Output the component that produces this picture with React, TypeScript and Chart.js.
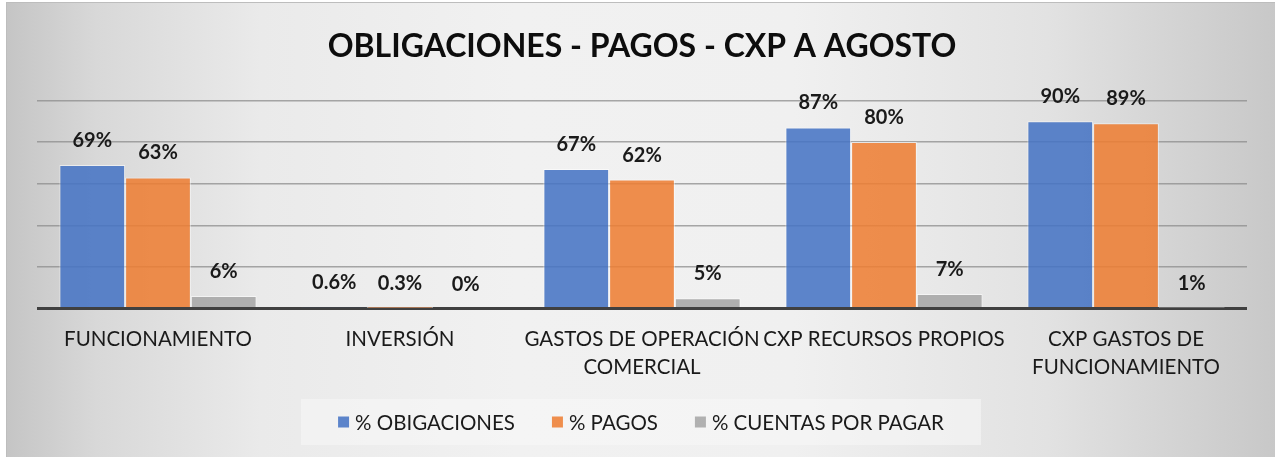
import React, { useEffect, useRef } from "react";
import { Chart, registerables } from "chart.js";

Chart.register(...registerables);

const categories: (string | string[])[] = [
  "FUNCIONAMIENTO",
  "INVERSIÓN",
  ["GASTOS DE OPERACIÓN", "COMERCIAL"],
  "CXP RECURSOS PROPIOS",
  ["CXP GASTOS DE", "FUNCIONAMIENTO"],
];

const seriesNames = ["% OBIGACIONES", "% PAGOS", "% CUENTAS POR PAGAR"];

const obligaciones = [69, 0.6, 67, 87, 90];
const pagos = [63, 0.3, 62, 80, 89];
const cuentasPorPagar = [6, 0, 5, 7, 0.4];

const obligacionesLabels = ["69%", "0.6%", "67%", "87%", "90%"];
const pagosLabels = ["63%", "0.3%", "62%", "80%", "89%"];
const cuentasLabels = ["6%", "0%", "5%", "7%", "1%"];

const yTicks = [0, 20, 40, 60, 80, 100];

const FONT = "Lato, 'Open Sans', sans-serif";

const colors = ["rgba(68,114,196,0.86)", "rgba(237,125,49,0.86)", "rgba(165,165,165,0.86)"];

export default function App() {
  const ref = useRef<HTMLCanvasElement | null>(null);

  useEffect(() => {
    if (!ref.current) return;
    const allLabels = [obligacionesLabels, pagosLabels, cuentasLabels];

    const dataLabelPlugin = {
      id: "dataLabels",
      afterDatasetsDraw(chart: any) {
        const ctx = chart.ctx;
        ctx.save();
        ctx.font = `bold 20px ${FONT}`;
        ctx.fillStyle = "#1a1a1a";
        ctx.textAlign = "center";
        ctx.textBaseline = "alphabetic";
        chart.data.datasets.forEach((ds: any, di: number) => {
          const meta = chart.getDatasetMeta(di);
          meta.data.forEach((bar: any, i: number) => {
            ctx.fillText(allLabels[di][i], bar.x, bar.y - 18);
          });
        });
        ctx.restore();
      },
    };

    const legendPlugin = {
      id: "customLegend",
      afterDraw(chart: any) {
        const ctx = chart.ctx;
        ctx.save();
        ctx.font = `20.5px ${FONT}`;
        const box = 11;
        const textGap = 6;
        const itemGap = 37;
        const widths = seriesNames.map((n) => box + textGap + ctx.measureText(n).width);
        const total = widths.reduce((a, b) => a + b, 0) + itemGap * (seriesNames.length - 1);
        const cx = chart.width / 2;
        const cy = 419;
        const padX = 37;
        ctx.fillStyle = "rgba(248,248,248,0.55)";
        ctx.fillRect(cx - total / 2 - padX, cy - 23, total + padX * 2, 46);
        let x = cx - total / 2;
        seriesNames.forEach((n, i) => {
          ctx.fillStyle = colors[i];
          ctx.fillRect(x, cy - box / 2, box, box);
          ctx.fillStyle = "#1a1a1a";
          ctx.textAlign = "left";
          ctx.textBaseline = "middle";
          ctx.fillText(n, x + box + textGap, cy + 1);
          x += widths[i] + itemGap;
        });
        ctx.restore();
      },
    };

    const chart = new Chart(ref.current, {
      type: "bar",
      data: {
        labels: categories,
        datasets: [obligaciones, pagos, cuentasPorPagar].map((d, i) => ({
          label: seriesNames[i],
          data: d,
          backgroundColor: colors[i],
          borderColor: "rgba(255,255,255,0.55)",
          borderWidth: 1,
          barPercentage: 1,
          categoryPercentage: 0.815,
        })),
      },
      options: {
        responsive: false,
        animation: false,
        layout: { padding: { left: 30, right: 28, top: 0, bottom: 59 } },
        plugins: {
          legend: { display: false },
          tooltip: { enabled: false },
          title: {
            display: true,
            text: "OBLIGACIONES - PAGOS - CXP A AGOSTO",
            color: "#0d0d0d",
            font: { family: FONT, size: 32, weight: "bold", lineHeight: 1.2 },
            padding: { top: 24, bottom: 35 },
          },
        },
        scales: {
          x: {
            grid: { display: false, drawTicks: false },
            border: { display: false },
            ticks: {
              color: "#1a1a1a",
              font: { family: FONT, size: 20.5, lineHeight: 1.4 },
              padding: 16,
              maxRotation: 0,
              autoSkip: false,
            },
          },
          y: {
            min: 0,
            max: 100,
            afterBuildTicks: (scale: any) => {
              scale.ticks = yTicks.map((v) => ({ value: v }));
            },
            ticks: { display: false },
            border: { display: false },
            grid: {
              drawTicks: false,
              color: (c: any) => (c.tick && c.tick.value === 0 ? "#404040" : "rgba(140,140,140,0.75)"),
              lineWidth: (c: any) => (c.tick && c.tick.value === 0 ? 3 : 1.5),
            },
          },
        },
      },
      plugins: [dataLabelPlugin, legendPlugin],
    });
    return () => chart.destroy();
  }, []);

  return (
    <div
      style={{
        position: "absolute",
        left: 6,
        top: 2,
        width: 1269,
        height: 455,
        borderTop: "1px solid #bdbdbd",
        borderLeft: "1px solid #bdbdbd",
        background:
          "linear-gradient(90deg, #c5c5c5 0%, #d8d8d8 7%, #eaeaea 20%, #f1f1f1 40%, #f0f0f0 62%, #e2e2e2 82%, #c8c8c8 100%)",
        overflow: "hidden",
      }}
    >
      <canvas ref={ref} width={1268} height={454} style={{ display: "block" }} />
    </div>
  );
}
